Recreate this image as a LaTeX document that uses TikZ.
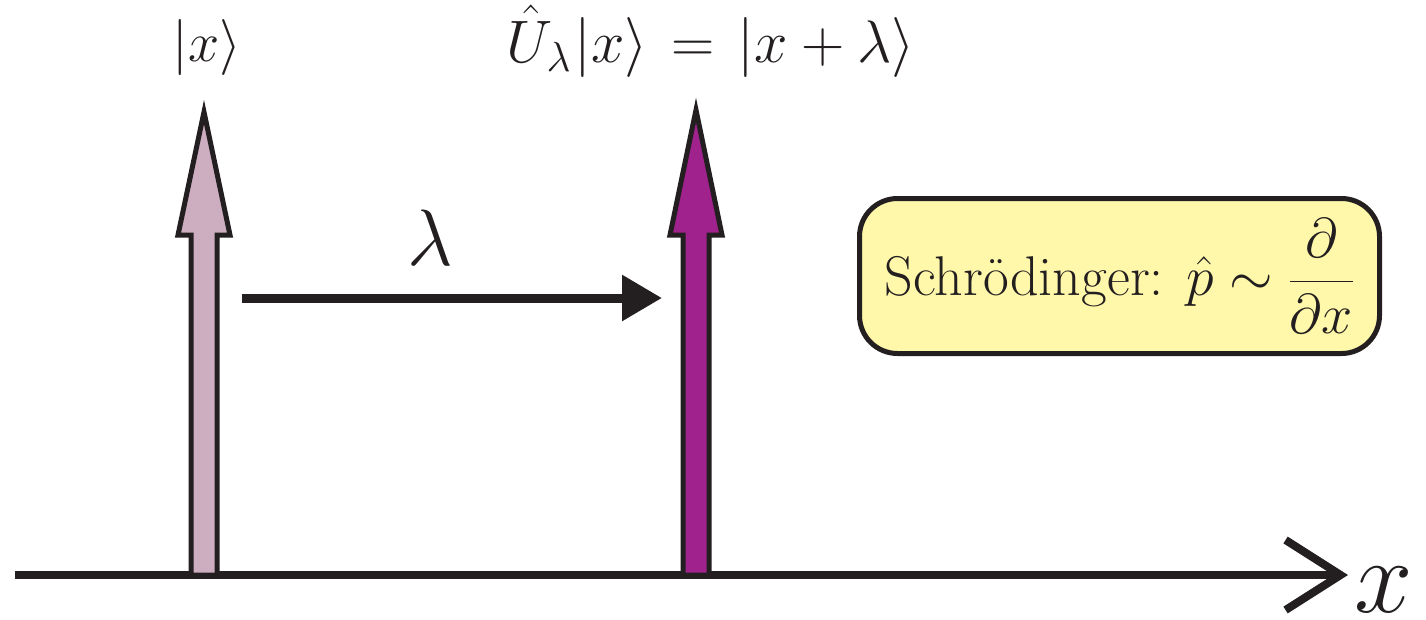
\RequirePackage{fix-cm}
\documentclass[tikz,border=0pt]{standalone}
\usepackage{amsmath}
\usetikzlibrary{arrows.meta}
\definecolor{ink}{HTML}{231F20}
\definecolor{lilac}{HTML}{CCAEC0}
\definecolor{plum}{HTML}{A0228C}
\definecolor{boxyellow}{HTML}{FFF7AA}
\begin{document}
\begin{tikzpicture}[x=1pt,y=-1pt,
  lbl/.style={text=ink, font=\fontsize{56}{62}\selectfont, inner sep=0pt, anchor=base},
  blockarrow/.style={draw=ink, line width=5pt, line join=miter},
  notebox/.style={draw=ink, line width=5pt, fill=boxyellow, rounded corners=38pt,
    minimum width=520pt, minimum height=155pt, inner sep=0pt, text=ink,
    font=\fontsize{56}{62}\selectfont}
]
\useasboundingbox (0,0) rectangle (1426,619);
% axis
\coordinate (axL) at (15,575);
\coordinate (axR) at (1348,575);
\draw[ink, line width=8pt, -{Straight Barb[length=55pt,width=70pt,sharp]}] (axL) -- (axR);
\node[lbl, font=\fontsize{105}{110}\selectfont] (xlab) at (1384,612) {$x$};
% left block arrow
\draw[blockarrow, fill=lilac] (191,575) -- (191,235) -- (178,235) -- (204,112) -- (230,235) -- (217,235) -- (217,575) -- cycle;
% right block arrow
\draw[blockarrow, fill=plum] (683,575) -- (683,235) -- (670,235) -- (696,110) -- (722,235) -- (709,235) -- (709,575) -- cycle;
% shift arrow
\coordinate (lamS) at (242,298);
\coordinate (lamE) at (662,298);
\draw[ink, line width=9pt, -{Triangle[length=40pt,width=44pt]}] (lamS) -- (lamE);
\node[lbl, font=\fontsize{80}{88}\selectfont] (lam) at (430,265) {$\lambda$};
% labels
\node[lbl] (ketx) at (207,61) {$|x\rangle$};
\node[lbl, font=\fontsize{60}{66}\selectfont] (ketu) at (711,62) {$\hat U_{\lambda}\mkern1mu|x\rangle \mkern2mu=\mkern2mu |x+\lambda\rangle$};
% box
\node[notebox] (box) at (1119.5,276) {Schrödinger: $\hat p \sim \dfrac{\partial}{\partial x}$};
\end{tikzpicture}
\end{document}
